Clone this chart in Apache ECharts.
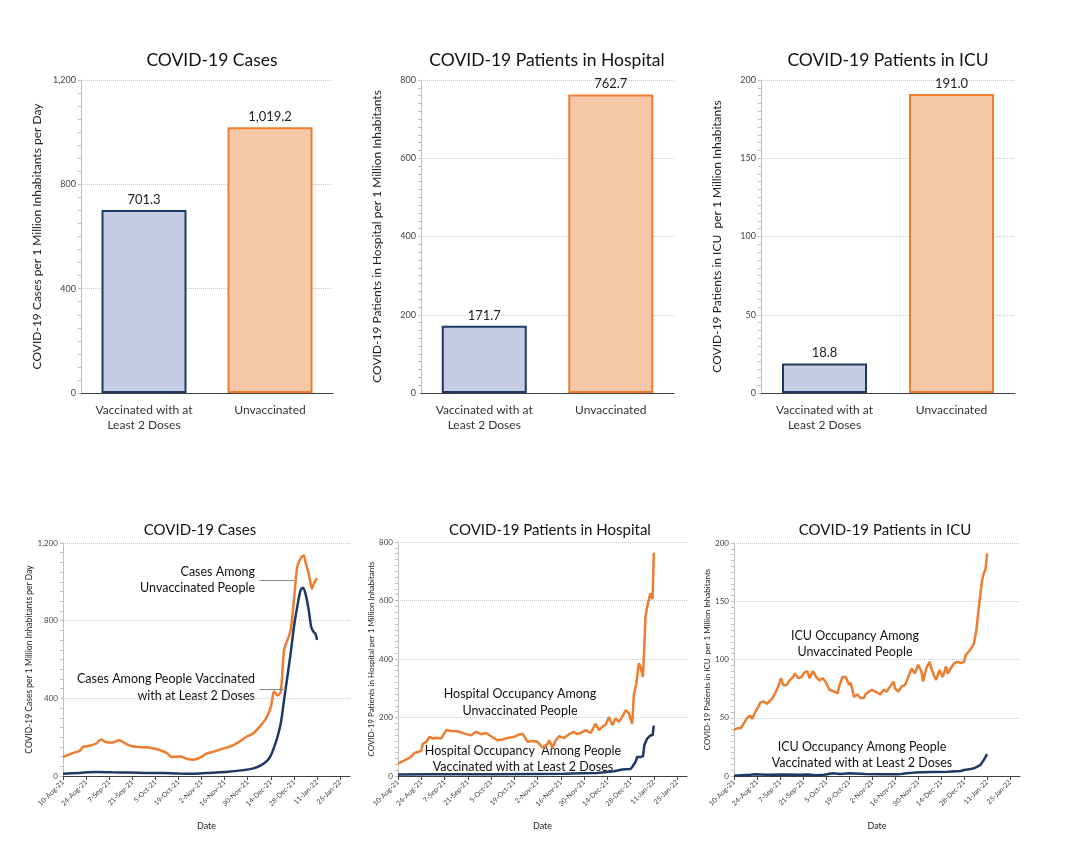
<!DOCTYPE html>
<html><head><meta charset="utf-8">
<script src="https://cdn.jsdelivr.net/npm/echarts/dist/echarts.min.js"></script>
<style>html,body{margin:0;padding:0;background:#fff}#c{width:1080px;height:844px}</style>
</head><body><div id="c"></div>
<script>
// ---------- DATA ----------
const barCategories = ['Vaccinated with at\nLeast 2 Doses', 'Unvaccinated'];
const barCases = [701.3, 1019.2];
const barHospital = [171.7, 762.7];
const barICU = [18.8, 191.0];

// date tick labels every 14 days starting 10-Aug-21 (x = days since 10-Aug-21)
const dateTickLabels = ['10-Aug-21','24-Aug-21','7-Sep-21','21-Sep-21','5-Oct-21','19-Oct-21','2-Nov-21','16-Nov-21','30-Nov-21','14-Dec-21','28-Dec-21','11-Jan-22','25-Jan-22'];

const casesUnvacDays = [0,3,6,10,12,14,17,20,23,26,30,34,38,42,46,50,53,56,59,63,66,71,75,79,83,87,91,95,99,103,107,111,115,119,123,126,128,130,132,134,136,138,140,142,144,146,147,149,151,152,154];
const casesUnvacVals = [98,108,118,129,149,153,158,166,188,175,172,184,167,153,149,148,146,140,132,118,98,101,89,84,94,115,124,136,146,158,178,201,218,252,295,355,435,415,433,647,699,750,905,1076,1119,1136,1102,1042,965,990,1019];

const casesVacDays = [0,10,20,30,40,50,60,70,80,90,100,108,115,120,124,126,128,130,132,134,136,138,140,142,144,145.5,147,149,150.5,152,153,154];
const casesVacVals = [12,16,20,19,18,16,15,13,12,17,22,29,38,55,81,106,149,201,270,390,510,630,767,870,956,970,939,853,767,741,733,701];

const hospUnvacDays = [0,3,6,8,10,12,14,15,17,19,21,23,26,29,32,36,40,44,47,50,53,56,60,63,66,70,73,75,78,81,84,87,90,91,93,95,97,100,103,106,108,110,113,116,119,121,123,125,127,129,131,133,135,137,139,141,142,143.5,145,146,147.5,149,150.5,152,153.3,154];
const hospUnvacVals = [42,51,59,67,79,82,86,111,117,134,128,131,128,157,154,153,145,139,151,143,147,136,122,125,130,134,142,145,117,120,117,97,109,122,97,122,136,130,143,151,143,147,157,147,179,157,168,176,202,174,197,185,202,225,214,179,277,317,385,374,339,545,591,625,605,763];

const hospVacDays = [0,20,40,60,80,100,110,120,130,135,140,141,143,144,146,147.5,148.3,150,152,153.3,154];
const hospVacVals = [5,6,6,6,7,8,9,10,16,22,24,31,48,65,65,67,105,128,139,139,172];

const icuUnvacDays = [0,2,4,6,8,10,11,13,15,16,18,20,21,23,25,27,28.5,30,32,34,36,37,39,41,43,44.5,46,48,50,52,54,56,58,61,63,64,66,68,70,71,73,75,77,79,80,82,84,86,87,89,91,93,95,97,98,100,102,104,106,108,110,112,114,115,117,119,120,122,123,125,126,127,129,130,132,134,136,138,140,141,142,143,145,146,147.5,149,150,151,152,153,154];
const icuUnvacVals = [39.5,41,41,45,50,52,49,55,60,63,64,62,61,66,71,77,84,78,78,82.5,85,88,84,85,89,90,84,90,85,82,84,80,74,72.5,71,77,85,85,78,80,68,70,67,67,70,72.5,74,72.5,72.5,70,74,72.5,77,81,75,72.5,77,78,85,92,88,95.5,90,81,92.5,98,92.5,85,82.5,91,92,85,94,88,92.5,97,98,97,98,104,102.5,107,111,114,125.5,145.5,157,168.5,174,177,191];

const icuVacDays = [0,10,12,20,30,40,45,50,55,60,65,70,80,90,100,105,110,120,130,138,140,143,146,148,150,152,154];
const icuVacVals = [0.3,1,1.4,1.1,1.2,1,1.2,0.6,1,2.3,1.7,2.3,1.7,1.4,1.4,2.3,2.9,3.4,3.7,4.3,5.2,5.7,6.6,8,9.5,13.8,18.8];

// ---------- STYLE ----------
const F = 'Lato, "Open Sans", sans-serif';
const ORANGE = '#ED7D31', NAVY = '#1F3864';
const barFills = ['#C5CCE3', '#F7C8A7'];
const barBorders = [NAVY, ORANGE];

const zip = (d, v) => d.map((x, i) => [x, v[i]]);

const grids = [
  {left:81, top:80, width:252, height:313},
  {left:421, top:80, width:253, height:313},
  {left:761, top:80, width:254, height:313},
  {left:63, top:543, width:287, height:233},
  {left:398, top:542, width:289, height:234},
  {left:734, top:543, width:286, height:233}
];

function yAx(gi, max, interval, minorSplit, name, nameSize, nameGap, labelSize) {
  return {
    type:'value', gridIndex:gi, min:0, max:max, interval:interval,
    name:name, nameLocation:'middle', nameGap:nameGap,
    nameTextStyle:{fontSize:nameSize, color:'#222', fontFamily:F},
    axisLine:{show:true, lineStyle:{color:'#c0c0c0'}},
    axisTick:{show:true, length:3, lineStyle:{color:'#c0c0c0'}},
    minorTick:{show:true, splitNumber:minorSplit, length:3, lineStyle:{color:'#c0c0c0'}},
    minorSplitLine:{show:false},
    axisLabel:{fontSize:labelSize, color:'#444', fontFamily:F, margin:5, formatter:v => v.toLocaleString('en-US')},
    splitLine:{show:true, lineStyle:{color:'#c8c8c8', type:'dotted'}}
  };
}
function xCat(gi) {
  return {
    type:'category', gridIndex:gi, data:barCategories,
    axisLine:{lineStyle:{color:'#404040', width:1.2}},
    axisTick:{show:false},
    axisLabel:{fontSize:12, color:'#333', fontFamily:F, lineHeight:15, margin:10, interval:0}
  };
}
function xDate(gi) {
  return {
    type:'value', gridIndex:gi, min:0, max:174, interval:14,
    axisLine:{lineStyle:{color:'#404040', width:1.2}},
    axisTick:{show:true, length:4, lineStyle:{color:'#404040'}},
    splitLine:{show:false},
    axisLabel:{rotate:45, fontSize:7, color:'#444', fontFamily:F, margin:5, showMaxLabel:false,
      formatter:v => (v % 14 === 0 && dateTickLabels[v/14]) ? dateTickLabels[v/14] : ''},
    name:'Date', nameLocation:'middle', nameGap:46,
    nameTextStyle:{fontSize:9, color:'#222', fontFamily:F}
  };
}
function barSeries(gi, vals) {
  return {
    type:'bar', xAxisIndex:gi, yAxisIndex:gi, barWidth:85,
    data: vals.map((v, i) => ({value:v, itemStyle:{color:barFills[i], borderColor:barBorders[i], borderWidth:2}})),
    label:{show:true, position:'top', distance:4, fontSize:13, color:'#222', fontFamily:F,
      formatter:p => p.value.toLocaleString('en-US', {minimumFractionDigits:1, maximumFractionDigits:1})}
  };
}
function lineSeries(gi, d, v, color, smooth, extra) {
  return Object.assign({
    type:'line', xAxisIndex:gi, yAxisIndex:gi, data:zip(d, v), showSymbol:false, symbol:'none',
    smooth:smooth, lineStyle:{color:color, width:2.5}, itemStyle:{color:color}, z:3
  }, extra || {});
}
function txt(x, y, text, size, align) {
  return {type:'text', x:x, y:y, silent:true, style:{text:text, fill:'#111', font:size + 'px ' + F,
    align:align || 'center', verticalAlign:'middle', textAlign:align || 'center', textVerticalAlign:'middle'}};
}

const leaderStyle = {color:'#8c8c8c', width:1, type:'solid'};

const option = {
  animation:false,
  backgroundColor:'#fff',
  grid: grids,
  xAxis: [xCat(0), xCat(1), xCat(2), xDate(3), xDate(4), xDate(5)],
  yAxis: [
    yAx(0, 1200, 400, 8, 'COVID-19 Cases per 1 Million Inhabitants per Day', 12, 38, 9),
    yAx(1, 800, 200, 10, 'COVID-19 Patients in Hospital per 1 Million Inhabitants', 12, 38, 9),
    yAx(2, 200, 50, 10, 'COVID-19 Patients in ICU  per 1 Million Inhabitants', 12, 38, 9),
    yAx(3, 1200, 400, 8, 'COVID-19 Cases per 1 Million Inhabitants per Day', 8.5, 28, 8),
    yAx(4, 800, 200, 10, 'COVID-19 Patients in Hospital per 1 Million Inhabitants', 8, 23, 8),
    yAx(5, 200, 50, 10, 'COVID-19 Patients in ICU  per 1 Million Inhabitants', 8, 23, 8)
  ],
  series: [
    barSeries(0, barCases),
    barSeries(1, barHospital),
    barSeries(2, barICU),
    lineSeries(3, casesUnvacDays, casesUnvacVals, ORANGE, 0.3, {
      markLine:{silent:true, symbol:'none', label:{show:false}, lineStyle:leaderStyle,
        data:[[{coord:[119, 1006]}, {coord:[140.5, 1006]}], [{coord:[119, 445]}, {coord:[135, 445]}]]}
    }),
    lineSeries(3, casesVacDays, casesVacVals, NAVY, 0.3),
    lineSeries(4, hospUnvacDays, hospUnvacVals, ORANGE, false),
    lineSeries(4, hospVacDays, hospVacVals, NAVY, false),
    lineSeries(5, icuUnvacDays, icuUnvacVals, ORANGE, false),
    lineSeries(5, icuVacDays, icuVacVals, NAVY, false)
  ],
  graphic: [
    txt(212, 60, 'COVID-19 Cases', 17.5),
    txt(547, 60, 'COVID-19 Patients in Hospital', 17.5),
    txt(888, 60, 'COVID-19 Patients in ICU', 17.5),
    txt(200, 530, 'COVID-19 Cases', 15),
    txt(550, 530, 'COVID-19 Patients in Hospital', 15),
    txt(885, 530, 'COVID-19 Patients in ICU', 15),
    txt(255, 572, 'Cases Among', 12.5, 'right'),
    txt(255, 588, 'Unvaccinated People', 12.5, 'right'),
    txt(255, 679, 'Cases Among People Vaccinated', 12.5, 'right'),
    txt(255, 696, 'with at Least 2 Doses', 12.5, 'right'),
    txt(520, 694, 'Hospital Occupancy Among', 12.5),
    txt(520, 711, 'Unvaccinated People', 12.5),
    txt(523, 751, 'Hospital Occupancy  Among People', 12.5),
    txt(523, 767, 'Vaccinated with at Least 2 Doses', 12.5),
    txt(855, 636, 'ICU Occupancy Among', 12.5),
    txt(855, 652, 'Unvaccinated People', 12.5),
    txt(862, 747, 'ICU Occupancy Among People', 12.5),
    txt(862, 763, 'Vaccinated with at Least 2 Doses', 12.5)
  ]
};

const chart = echarts.init(document.getElementById('c'), null, {renderer:'canvas'});
chart.setOption(option);
</script>
</body></html>
